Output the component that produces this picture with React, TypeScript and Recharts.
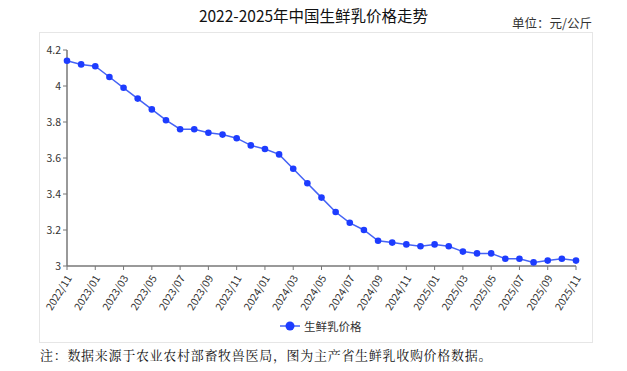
import React from "react";
import { LineChart, Line, XAxis, YAxis } from "recharts";

const months = [
  "2022/11", "2022/12",
  "2023/01", "2023/02", "2023/03", "2023/04", "2023/05", "2023/06",
  "2023/07", "2023/08", "2023/09", "2023/10", "2023/11", "2023/12",
  "2024/01", "2024/02", "2024/03", "2024/04", "2024/05", "2024/06",
  "2024/07", "2024/08", "2024/09", "2024/10", "2024/11", "2024/12",
  "2025/01", "2025/02", "2025/03", "2025/04", "2025/05", "2025/06",
  "2025/07", "2025/08", "2025/09", "2025/10", "2025/11",
];

// 生鲜乳价格 (元/公斤)
const prices = [
  4.14, 4.12,
  4.11, 4.05, 3.99, 3.93, 3.87, 3.81,
  3.76, 3.76, 3.74, 3.73, 3.71, 3.67,
  3.65, 3.62, 3.54, 3.46, 3.38, 3.3,
  3.24, 3.2, 3.14, 3.13, 3.12, 3.11,
  3.12, 3.11, 3.08, 3.07, 3.07, 3.04,
  3.04, 3.02, 3.03, 3.04, 3.03,
];

const yTicks = [3, 3.2, 3.4, 3.6, 3.8, 4, 4.2];

const data = months.map((m, i) => ({ month: m, price: prices[i] }));

const FONT = "'Noto Sans CJK SC', 'Noto Sans', sans-serif";

const RotatedTick = (props: any) => {
  const { x, y, payload } = props;
  return (
    <g transform={`translate(${x + 2},${y + 4})`}>
      <text
        x={0}
        y={0}
        dy={4}
        textAnchor="end"
        fill="#333"
        fontSize={10.5}
        fontFamily={FONT}
        transform="rotate(-58)"
      >
        {payload.value}
      </text>
    </g>
  );
};

export default function App() {
  return (
    <div
      style={{
        position: "absolute",
        left: 0,
        top: 0,
        width: 627,
        height: 371,
        background: "#fff",
      }}
    >
      <div
        style={{
          position: "absolute",
          left: 0,
          width: 627,
          top: 4,
          textAlign: "center",
          fontSize: 15.5,
          fontFamily: FONT,
          color: "#111",
        }}
      >
        2022-2025年中国生鲜乳价格走势
      </div>
      <div
        style={{
          position: "absolute",
          right: 35,
          top: 13,
          fontSize: 12.5,
          fontFamily: FONT,
          color: "#333",
        }}
      >
        单位：元/公斤
      </div>
      <div
        style={{
          position: "absolute",
          left: 39,
          top: 32,
          width: 552,
          height: 309,
          border: "1px solid #e6e6e6",
        }}
      >
        <LineChart
          width={552}
          height={309}
          data={data}
          margin={{ top: 17, right: 16, left: 0, bottom: 31 }}
          style={{ overflow: "visible" }}
        >
          <XAxis
            dataKey="month"
            interval={1}
            height={45}
            tick={<RotatedTick />}
            tickLine={{ stroke: "#777" }}
            axisLine={{ stroke: "#777", strokeWidth: 1.5 }}
            tickSize={4}
          />
          <YAxis
            width={27}
            domain={[3, 4.2]}
            ticks={yTicks}
            tickSize={4}
            tick={{ fontSize: 10.5, fill: "#333", fontFamily: FONT }}
            tickLine={{ stroke: "#777" }}
            axisLine={{ stroke: "#777", strokeWidth: 1.5 }}
          />
          <Line
            dataKey="price"
            type="linear"
            stroke="#4563f5"
            strokeWidth={1.5}
            dot={{ r: 3.3, fill: "#1d3cff", stroke: "#1d3cff", strokeWidth: 0 }}
            isAnimationActive={false}
          />
        </LineChart>
        <div
          style={{
            position: "absolute",
            left: 240,
            top: 285,
            display: "flex",
            alignItems: "center",
            fontSize: 11.5,
            fontFamily: FONT,
            color: "#333",
          }}
        >
          <svg width={20} height={12} style={{ marginRight: 4 }}>
            <line x1={0} y1={6} x2={20} y2={6} stroke="#4563f5" strokeWidth={1.5} />
            <circle cx={10} cy={6} r={4.5} fill="#1d3cff" />
          </svg>
          生鲜乳价格
        </div>
      </div>
      <div
        style={{
          position: "absolute",
          left: 40,
          top: 345,
          fontSize: 13,
          letterSpacing: 0.7,
          fontFamily: "'Noto Serif CJK SC', serif",
          color: "#111",
        }}
      >
        注：数据来源于农业农村部畜牧兽医局，图为主产省生鲜乳收购价格数据。
      </div>
    </div>
  );
}
